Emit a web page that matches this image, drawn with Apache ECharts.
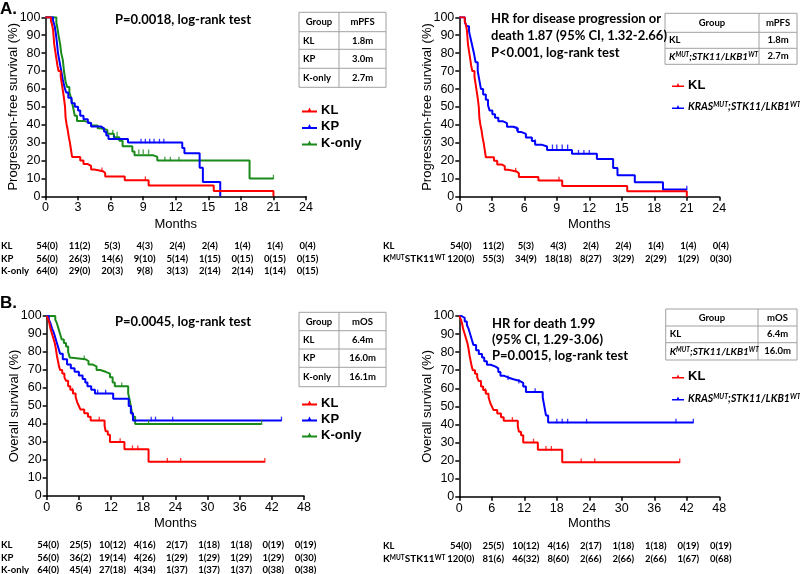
<!DOCTYPE html>
<html><head><meta charset="utf-8">
<script src="https://cdn.jsdelivr.net/npm/echarts@6/dist/echarts.min.js"></script>
<style>html,body{margin:0;padding:0;background:#fff}#c{width:800px;height:574px}</style>
</head><body><div id="c"></div>
<script>
// ---------- DATA ----------
const ticksPFS = [0,3,6,9,12,15,18,21,24];
const ticksOS = [0,6,12,18,24,30,36,42,48];

const pfsKL = [[0,100],[0.5,98],[0.6,96],[0.7,93],[0.75,89],[0.8,85],[0.9,81],[1.0,77],[1.1,73],[1.2,70],[1.4,67],[1.5,63],[1.6,59],[1.7,55],[1.8,50],[1.85,44],[1.95,40],[2.05,37],[2.15,33],[2.25,30],[2.35,26],[2.45,22],[3.2,20],[3.5,18],[3.9,17],[4.2,15],[4.5,14],[5.3,13],[5.5,11],[7.3,9],[9.5,6],[15.5,3],[21,0]];
const pfsKP = [[0,100],[0.7,98],[0.85,95],[0.95,91],[1.05,86],[1.15,80],[1.3,75],[1.45,70],[1.6,65],[1.75,61],[1.9,58],[2.1,55],[2.4,52],[2.7,50],[3.0,48],[3.2,45],[3.5,43],[3.9,41],[4.2,39],[5.1,38],[5.4,36],[5.6,34],[5.8,32],[7.6,30],[12.6,27],[12.8,24],[14.2,16],[14.5,8],[16.1,0]];
const pfsKonly = [[0,100],[1.0,97],[1.1,94],[1.2,90],[1.35,85],[1.45,80],[1.6,76],[1.7,70],[1.85,64],[2.0,61],[2.2,58],[2.35,55],[2.5,51],[2.6,48],[2.7,45],[2.9,42],[3.6,41],[4.2,39.5],[4.8,38],[5.1,37],[5.7,35],[6.3,33],[6.8,31],[7.1,28],[8.0,25],[8.2,23],[9.9,22],[10.3,20],[18.8,10],[21,10]];
const pfsKras = [[0,100],[0.52,97],[0.7,95],[0.9,92],[1.05,88],[1.2,84],[1.35,80],[1.5,75],[1.7,70],[1.85,65],[2.0,60],[2.2,57],[2.45,54],[2.65,51],[2.8,48],[3.05,46],[3.3,44],[3.6,42],[4.05,41],[4.4,39],[5.0,38],[5.4,36],[5.75,35],[6.15,33],[6.7,31],[7.0,29],[7.6,28],[8.1,26],[10.4,24],[12.7,21],[14.2,16],[14.6,12],[16.2,8],[18.8,4],[21,4]];

const osKL = [[0,100],[0.3,98],[0.5,96],[0.7,93],[0.9,91],[1.1,89],[1.3,87],[1.5,85],[1.7,82],[1.9,78],[2.1,75],[2.3,72],[2.5,70],[2.9,68],[3.3,66],[3.6,64],[4.0,61],[4.4,59],[4.9,57],[5.4,55],[5.7,52],[6.0,50],[6.3,48],[7.0,46],[7.7,44],[8.2,42],[10.8,39],[11.0,36],[11.4,34],[11.8,30],[14.5,26],[19.0,19],[40.7,19]];
const osKP = [[0,100],[0.4,98],[0.7,96],[1.0,93],[1.3,91],[1.6,88],[1.9,85],[2.2,82],[2.5,79],[3.0,76],[3.8,73],[4.5,71],[5.2,69],[6.0,67],[6.7,65],[7.2,63],[7.6,61],[8.3,59],[9.0,57],[12.4,54],[15.3,50],[15.7,46],[16.1,42],[43.8,42]];
const osKonly = [[0,100],[1.6,98],[1.9,96],[2.2,93],[2.5,90],[2.8,87],[3.2,85],[3.6,83],[4.0,80],[4.3,77],[4.6,76],[7.2,75],[7.8,73],[8.6,72],[9.3,70],[10.0,69],[11.0,68],[11.8,66],[12.3,63],[12.7,61],[15.2,57],[15.5,53],[15.8,48],[16.1,44],[16.5,40],[40.1,40]];
const osKras = [[0,100],[0.4,99],[1.0,97],[1.4,95],[1.7,93],[2.0,90],[2.3,87],[2.6,84],[3.1,81],[3.6,79],[4.2,77],[4.6,75],[5.1,73],[5.8,72],[6.7,71],[7.2,69],[7.6,67],[8.2,66],[9.0,65],[10.0,64],[11.2,63],[11.8,61],[12.3,58],[15.4,55],[15.7,50],[16.0,45],[16.4,41],[43.2,41]];

// censored observations
const cPfsKL = [[5.2,14],[9.2,9]];
const cPfsKP = [[6.3,32],[8.8,30],[9.2,30],[9.6,30],[10.0,30],[10.5,30],[10.9,30]];
const cPfsKonly = [[6.2,35],[6.6,34],[8.6,24],[9.0,24],[9.5,24],[11.0,20],[11.5,20],[12.3,20],[21,10]];
const cPfsKras = [[5.3,37],[7.0,30],[8.6,27],[9.0,27],[9.5,27],[10.0,27],[11.0,24],[11.5,24],[12.0,24],[21,4]];
const cOsKL = [[4.8,58],[9.8,42],[13.7,30],[16,26],[17,26],[22.5,19],[25,19],[40.7,19]];
const cOsKP = [[9.5,57],[11,57],[19.5,42],[20.3,42],[23.5,42],[43.8,42]];
const cOsKonly = [[7,76],[14,61],[19,40],[40.1,40]];
const cOsKras = [[9,65],[11,63],[14,58],[18,41],[19,41],[20,41],[23.5,41],[40,41],[43.2,41]];

// numbers at risk (censored)
const riskPfsKL = ['54(0)','11(2)','5(3)','4(3)','2(4)','2(4)','1(4)','1(4)','0(4)'];
const riskPfsKP = ['56(0)','26(3)','14(6)','9(10)','5(14)','1(15)','0(15)','0(15)','0(15)'];
const riskPfsKonly = ['64(0)','29(0)','20(3)','9(8)','3(13)','2(14)','2(14)','1(14)','0(15)'];
const riskPfsKras = ['120(0)','55(3)','34(9)','18(18)','8(27)','3(29)','2(29)','1(29)','0(30)'];
const riskOsKL = ['54(0)','25(5)','10(12)','4(16)','2(17)','1(18)','1(18)','0(19)','0(19)'];
const riskOsKP = ['56(0)','36(2)','19(14)','4(26)','1(29)','1(29)','1(29)','1(29)','0(30)'];
const riskOsKonly = ['64(0)','45(4)','27(18)','4(34)','1(37)','1(37)','1(37)','0(38)','0(38)'];
const riskOsKras = ['120(0)','81(6)','46(32)','8(60)','2(66)','2(66)','2(66)','1(67)','0(68)'];

// median tables
const tblPfsGroups = ['KL','KP','K-only'];
const tblPfsMed = ['1.8m','3.0m','2.7m'];
const tblPfs2Med = ['1.8m','2.7m'];
const tblOsGroups = ['KL','KP','K-only'];
const tblOsMed = ['6.4m','16.0m','16.1m'];
const tblOs2Med = ['6.4m','16.0m'];

// ---------- CHART ----------
const chart = echarts.init(document.getElementById('c'));
const FONT = '"Liberation Sans", Arial, sans-serif';
const NARROW = '"Liberation Sans Narrow", Lato, sans-serif';
const RED = '#ff0000', BLUE = '#0000ff', GREEN = '#1a8a1a';
const KRAS = 'KRAS;STK11/LKB1';

const grids = [
  {left:45.5, top:17.3, width:260.5, height:179},
  {left:459.3, top:17.3, width:260, height:179.4},
  {left:46.7, top:316, width:257.3, height:180},
  {left:459.3, top:316, width:260, height:180.7}
];
function xAx(i, max, interval, gap) {
  return {type:'value', gridIndex:i, min:0, max:max, interval:interval,
    name:'Months', nameLocation:'middle', nameGap:gap, nameMoveOverlap:false,
    nameTextStyle:{fontSize:13, color:'#000', fontFamily:FONT},
    axisLine:{show:true, onZero:false, lineStyle:{color:'#000', width:1.5}},
    axisTick:{show:true, length:4, lineStyle:{color:'#000', width:1.5}},
    axisLabel:{fontSize:12.5, color:'#000', margin:5, fontFamily:FONT},
    splitLine:{show:false}};
}
function yAx(i, name) {
  return {type:'value', gridIndex:i, min:0, max:100, interval:10,
    name:name, nameLocation:'middle', nameGap:25.5, nameMoveOverlap:false,
    nameTextStyle:{fontSize:13, color:'#000', fontFamily:FONT},
    axisLine:{show:true, lineStyle:{color:'#000', width:1.5}},
    axisTick:{show:true, length:4, lineStyle:{color:'#000', width:1.5}},
    axisLabel:{fontSize:12.5, color:'#000', margin:5, fontFamily:FONT},
    splitLine:{show:false}};
}
function km(name, data, color, i) {
  return {type:'line', name:name, data:data, step:'end', xAxisIndex:i, yAxisIndex:i,
    showSymbol:false, symbol:'none', color:color, lineStyle:{color:color, width:2}, z:3, silent:true, animation:false};
}
function cens(data, color, i) {
  return {type:'scatter', name:'censored', data:data, xAxisIndex:i, yAxisIndex:i,
    symbol:'rect', symbolSize:[1.3,4.5], symbolOffset:[0,-1.5], itemStyle:{color:color}, z:4, silent:true, animation:false};
}
const icon = 'path://M0,4L6,4L7.5,1L9,4L15,4L15,6L0,6Z';
const supRich = {
  b:{fontSize:10.5, fontWeight:'bold', fontStyle:'italic', fontFamily:NARROW, color:'#000'},
  s:{fontSize:7, fontWeight:'bold', fontStyle:'italic', fontFamily:NARROW, color:'#000', verticalAlign:'top'}
};
function legendFmt(name) {
  if (name === KRAS) return '{b|KRAS}{s|MUT}{b|;STK11/LKB1}{s|WT}';
  return name;
}
function lg(left, top, gap, data, w) {
  return {left:left, top:top, orient:'vertical', padding:0, itemGap:gap, itemWidth:w, itemHeight:6,
    icon:icon, data:data, selectedMode:false, formatter:legendFmt,
    textStyle:{fontSize:13, fontWeight:'bold', color:'#000', fontFamily:FONT, padding:[0,0,0,-1], rich:supRich}};
}

chart.setOption({
  animation:false,
  grid: grids,
  xAxis: [xAx(0,24,3,21.5), xAx(1,24,3,21.5), xAx(2,48,6,20.5), xAx(3,48,6,20.5)],
  yAxis: [yAx(0,'Progression-free survival (%)'), yAx(1,'Progression-free survival (%)'),
          yAx(2,'Overall survival (%)'), yAx(3,'Overall survival (%)')],
  legend: [lg(302,103.5,3.5,['KL','KP','K-only'],15), lg(672,78.5,10,['KL',KRAS],12),
           lg(302,396.5,3,['KL','KP','K-only'],15), lg(672,370,10,['KL',KRAS],12)],
  series: [
    km('K-only', pfsKonly, GREEN, 0), km('KP', pfsKP, BLUE, 0), km('KL', pfsKL, RED, 0),
    cens(cPfsKonly, GREEN, 0), cens(cPfsKP, BLUE, 0), cens(cPfsKL, RED, 0),
    km(KRAS, pfsKras, BLUE, 1), km('KL', pfsKL, RED, 1),
    cens(cPfsKras, BLUE, 1), cens(cPfsKL, RED, 1),
    km('K-only', osKonly, GREEN, 2), km('KP', osKP, BLUE, 2), km('KL', osKL, RED, 2),
    cens(cOsKonly, GREEN, 2), cens(cOsKP, BLUE, 2), cens(cOsKL, RED, 2),
    km(KRAS, osKras, BLUE, 3), km('KL', osKL, RED, 3),
    cens(cOsKras, BLUE, 3), cens(cOsKL, RED, 3)
  ]
});

// ---------- TEXT / TABLES ----------
const G = [];
function txt(text, x, y, o) {
  o = o || {};
  const st = {text:text, x:x, y:y, fill:'#000',
    fontSize:o.size||10, fontWeight:o.weight||'bold', fontStyle:o.style||'normal',
    fontFamily:o.family||NARROW,
    textAlign:o.align||'left', align:o.align||'left', textVerticalAlign:'middle', verticalAlign:'middle'};
  if (o.rich) st.rich = o.rich;
  G.push({type:'text', silent:true, style:st, z:10});
}
const sRich = {
  n:{fontSize:10, fontWeight:'bold', fontFamily:NARROW, fill:'#000', color:'#000'},
  i:{fontSize:10, fontWeight:'bold', fontStyle:'italic', fontFamily:NARROW, color:'#000'},
  u:{fontSize:6.5, fontWeight:'bold', fontStyle:'italic', fontFamily:NARROW, color:'#000', verticalAlign:'top'},
  un:{fontSize:6.5, fontWeight:'bold', fontFamily:NARROW, color:'#000', verticalAlign:'top'}
};
const KRASshort = '{i|K}{u|MUT}{i|;STK11/LKB1}{u|WT}';

// panel letters
txt('A.', 0, 9, {size:17, family:FONT});
txt('B.', 0, 303, {size:17, family:FONT});
// annotations
txt('P=0.0018, log-rank test', 183, 20, {size:13, align:'center'});
txt('HR for disease progression or', 491, 19, {size:13});
txt('death 1.87 (95% CI, 1.32-2.66)', 491, 36, {size:13});
txt('P<0.001, log-rank test', 491, 52.5, {size:13});
txt('P=0.0045, log-rank test', 183, 322, {size:13, align:'center'});
txt('HR for death 1.99', 492, 323.5, {size:13});
txt('(95% CI, 1.29-3.06)', 492, 339.5, {size:13});
txt('P=0.0015, log-rank test', 492, 355.5, {size:13});

function table(x, y, cw, rh, header, groups, vals, richGroups) {
  const W = cw[0] + cw[1];
  let H = 0; rh.forEach(h => H += h);
  G.push({type:'rect', shape:{x:x, y:y, width:W, height:H}, style:{fill:'#fff', stroke:'#a0a0a0', lineWidth:1}, z:8});
  G.push({type:'line', shape:{x1:x+cw[0], y1:y, x2:x+cw[0], y2:y+H}, style:{stroke:'#a0a0a0', lineWidth:1}, z:9});
  let yy = y;
  for (let r = 0; r < rh.length; r++) {
    if (r > 0) G.push({type:'line', shape:{x1:x, y1:yy, x2:x+W, y2:yy}, style:{stroke:'#a0a0a0', lineWidth:1}, z:9});
    const cy = yy + rh[r]/2;
    if (r === 0) {
      txt(header[0], x + cw[0]/2, cy, {size:9.5, align:'center'});
      txt(header[1], x + cw[0] + cw[1]/2, cy, {size:9.5, align:'center'});
    } else {
      const g = groups[r-1];
      if (richGroups && richGroups[r-1]) txt(richGroups[r-1], x + 4, cy, {size:9.5, rich:sRich});
      else txt(g, x + 4, cy, {size:9.5});
      txt(vals[r-1], x + cw[0] + cw[1]/2, cy, {size:9.5, align:'center'});
    }
    yy += rh[r];
  }
}
table(299, 12.3, [40, 47], [19.4, 17.6, 19, 19], ['Group','mPFS'], tblPfsGroups, tblPfsMed);
table(665, 13.3, [94, 38], [19, 16, 16], ['Group','mPFS'], ['KL','K'], tblPfs2Med, [null, KRASshort]);
table(299, 312.3, [40, 47], [18.4, 18.3, 18.3, 19.4], ['Group','mOS'], tblOsGroups, tblOsMed);
table(665.7, 309, [92.3, 39], [17, 16.7, 17.3], ['Group','mOS'], ['KL','K'], tblOs2Med, [null, KRASshort]);

// numbers at risk, aligned to axis ticks
function riskRow(label, labelX, y, vals, ticks, gi, richLabel) {
  if (richLabel) txt(richLabel, labelX, y, {size:9.5, rich:sRich});
  else txt(label, labelX, y, {size:9.5});
  for (let k = 0; k < ticks.length; k++) {
    const px = chart.convertToPixel({gridIndex:gi}, [ticks[k], 0])[0];
    txt(vals[k], px + 1.5, y, {size:9.5, align:'center'});
  }
}
const KMSTK = '{n|K}{un|MUT}{n|STK11}{un|WT}';
riskRow('KL', 1, 246, riskPfsKL, ticksPFS, 0);
riskRow('KP', 1, 258.5, riskPfsKP, ticksPFS, 0);
riskRow('K-only', 1, 271, riskPfsKonly, ticksPFS, 0);
riskRow('KL', 383, 246, riskPfsKL, ticksPFS, 1);
riskRow('K', 383, 259, riskPfsKras, ticksPFS, 1, KMSTK);
riskRow('KL', 1, 545, riskOsKL, ticksOS, 2);
riskRow('KP', 1, 557.5, riskOsKP, ticksOS, 2);
riskRow('K-only', 1, 570, riskOsKonly, ticksOS, 2);
riskRow('KL', 383, 545.5, riskOsKL, ticksOS, 3);
riskRow('K', 383, 559, riskOsKras, ticksOS, 3, KMSTK);

chart.setOption({graphic:{elements:G}});
</script></body></html>
